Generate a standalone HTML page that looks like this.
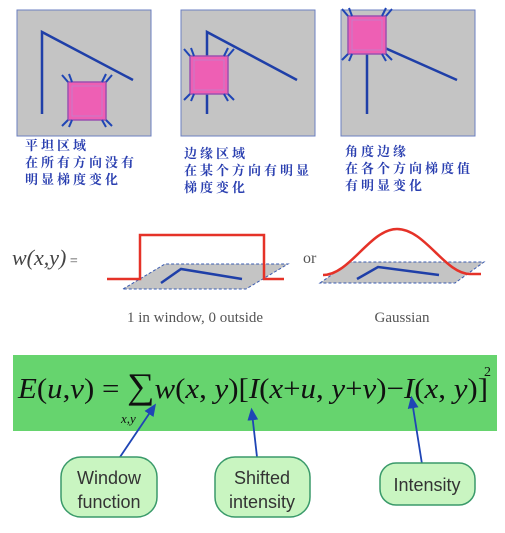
<!DOCTYPE html>
<html><head><meta charset="utf-8"><style>
html,body{margin:0;padding:0;background:#fff;width:505px;height:533px;overflow:hidden}
svg{display:block}
.cn{font-family:"Liberation Serif","Noto Serif CJK SC",serif;font-size:13px;fill:#2a3fb0;letter-spacing:3px;font-weight:bold}
.ser{font-family:"Liberation Serif",serif}
.bub{font-family:"Liberation Sans",sans-serif;font-size:18px;fill:#333;text-anchor:middle}
</style></head><body>
<svg width="505" height="533" viewBox="0 0 505 533">
<defs>
<g id="win">
<rect x="0" y="0" width="38" height="38" fill="#ee5fb4" stroke="#9a52b0" stroke-width="1.5"/>
<rect x="4" y="4" width="30" height="30" fill="none" stroke="#c77bc9" stroke-width="1"/>
<g stroke="#1f45b5" stroke-width="2">
<line x1="0" y1="0" x2="-6" y2="-7"/><line x1="4" y1="0" x2="1" y2="-8"/>
<line x1="38" y1="0" x2="44" y2="-7"/><line x1="34" y1="0" x2="38" y2="-8"/>
<line x1="0" y1="38" x2="-6" y2="44"/><line x1="4" y1="38" x2="1" y2="45"/>
<line x1="38" y1="38" x2="44" y2="44"/><line x1="34" y1="38" x2="38" y2="45"/>
</g></g>
<marker id="ah" markerWidth="8" markerHeight="8" refX="4" refY="4" orient="auto"><path d="M0,1 L7,4 L0,7 Z" fill="#1f45b5"/></marker>
</defs>

<g>
<rect x="17" y="10" width="134" height="126" fill="#c4c4c4" stroke="#6b7fc0"/>
<polyline points="42,114 42,32 133,80" fill="none" stroke="#1f3fa8" stroke-width="2.5"/>
<use href="#win" x="68" y="82"/>
<text class="cn" x="25" y="150">平坦区域</text>
<text class="cn" x="25" y="167">在所有方向没有</text>
<text class="cn" x="25" y="184">明显梯度变化</text>
</g>
<g>
<rect x="181" y="10" width="134" height="126" fill="#c4c4c4" stroke="#6b7fc0"/>
<polyline points="207,114 207,32 297,80" fill="none" stroke="#1f3fa8" stroke-width="2.5"/>
<use href="#win" x="190" y="56"/>
<text class="cn" x="184" y="158">边缘区域</text>
<text class="cn" x="184" y="175">在某个方向有明显</text>
<text class="cn" x="184" y="192">梯度变化</text>
</g>
<g>
<rect x="341" y="10" width="134" height="126" fill="#c4c4c4" stroke="#6b7fc0"/>
<polyline points="367,114 367,40 457,80" fill="none" stroke="#1f3fa8" stroke-width="2.5"/>
<use href="#win" x="348" y="16"/>
<text class="cn" x="345" y="156">角度边缘</text>
<text class="cn" x="345" y="173">在各个方向梯度值</text>
<text class="cn" x="345" y="190">有明显变化</text>
</g>

<text class="ser" x="12" y="265" font-size="22" font-style="italic" fill="#444">w(x,y)<tspan font-style="normal" font-size="14"> =</tspan></text>
<g>
<polygon points="123,289 165,264 288,264 246,289" fill="#c4c4c4" stroke="#3a5bb0" stroke-dasharray="3,2"/>
<polyline points="161,283 181,269 242,279" fill="none" stroke="#1f3fa8" stroke-width="2.5"/>
<polyline points="107,279 140,279 140,235 264,235 264,279 284,279" fill="none" stroke="#e53228" stroke-width="2.5"/>
<text class="ser" x="195" y="322" font-size="15" fill="#555" text-anchor="middle">1 in window, 0 outside</text>
</g>
<text class="ser" x="303" y="263" font-size="16" fill="#555">or</text>
<g>
<polygon points="320,283 350,262 484,262 455,283" fill="#c4c4c4" stroke="#3a5bb0" stroke-dasharray="3,2"/>
<polyline points="357,279 378,267 439,275" fill="none" stroke="#1f3fa8" stroke-width="2.5"/>
<path d="M323,275 C350,275 370,229 397,229 C425,229 445,274 470,274 L481,274" fill="none" stroke="#e53228" stroke-width="2.5"/>
<text class="ser" x="402" y="322" font-size="15" fill="#555" text-anchor="middle">Gaussian</text>
</g>

<g>
<rect x="13" y="355" width="484" height="76" fill="#66d46e"/>
<text class="ser" x="18" y="398" font-size="29" fill="#111" textLength="470" lengthAdjust="spacingAndGlyphs"><tspan font-style="italic">E</tspan>(<tspan font-style="italic">u</tspan>,<tspan font-style="italic">v</tspan>) = <tspan font-size="36">∑</tspan><tspan font-style="italic">w</tspan>(<tspan font-style="italic">x</tspan>, <tspan font-style="italic">y</tspan>)[<tspan font-style="italic">I</tspan>(<tspan font-style="italic">x</tspan>+<tspan font-style="italic">u</tspan>, <tspan font-style="italic">y</tspan>+<tspan font-style="italic">v</tspan>)−<tspan font-style="italic">I</tspan>(<tspan font-style="italic">x</tspan>, <tspan font-style="italic">y</tspan>)]</text>
<text class="ser" x="484" y="376" font-size="14" fill="#111">2</text>
<text class="ser" x="121" y="423" font-size="13" font-style="italic" fill="#111">x,y</text>
</g>

<g stroke="#1f45b5" stroke-width="1.8">
<line x1="120" y1="457" x2="153" y2="408" marker-end="url(#ah)"/>
<line x1="257" y1="457" x2="252" y2="413" marker-end="url(#ah)"/>
<line x1="422" y1="464" x2="412" y2="401" marker-end="url(#ah)"/>
</g>

<g>
<rect x="61" y="457" width="96" height="60" rx="20" fill="#c9f5c1" stroke="#3a9a6a" stroke-width="1.5"/>
<text class="bub" x="109" y="484">Window</text><text class="bub" x="109" y="508">function</text>
</g>
<g>
<rect x="215" y="457" width="95" height="60" rx="20" fill="#c9f5c1" stroke="#3a9a6a" stroke-width="1.5"/>
<text class="bub" x="262" y="484">Shifted</text><text class="bub" x="262" y="508">intensity</text>
</g>
<g>
<rect x="380" y="463" width="95" height="42" rx="16" fill="#c9f5c1" stroke="#3a9a6a" stroke-width="1.5"/>
<text class="bub" x="427" y="491">Intensity</text>
</g>
</svg>
</body></html>
